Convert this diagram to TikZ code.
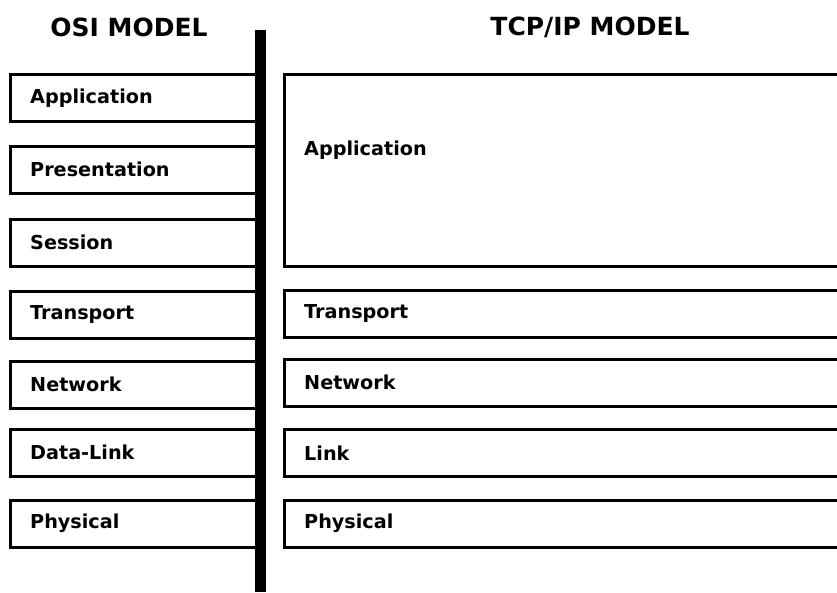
\documentclass[tikz,border=0pt]{standalone}
\usepackage{fontspec}
\setmainfont{DejaVu Sans}
\begin{document}
\begin{tikzpicture}[x=1pt,y=-1pt,
  layerbox/.style={draw=black,line width=2.5pt,rectangle,inner sep=0pt,anchor=north west},
  layertext/.style={font=\bfseries\fontsize{19.2}{22}\selectfont,anchor=west,inner sep=0pt},
  heading/.style={font=\bfseries\fontsize{25}{29}\selectfont,inner sep=0pt}]
\useasboundingbox (0,0) rectangle (837,592);
\clip (0,0) rectangle (837,592);

% column headings
\node[heading] (osi) at (129,27) {OSI MODEL};
\node[heading] (tcp) at (590,27) {TCP/IP MODEL};

% OSI layers (left column)
\foreach \name/\txt/\top in {oapp/Application/73, opre/Presentation/145, oses/Session/218,
    otra/Transport/290, onet/Network/360, odl/Data-Link/428, ophy/Physical/499}{
  \node[layerbox,minimum width=252pt,minimum height=47pt] (\name) at (9,\top) {};
  \node[layertext] (\name-t) at ([xshift=21pt]\name.west) {\txt};
}

% TCP/IP layers (right column, open past the right edge)
\node[layerbox,minimum width=570pt,minimum height=192pt] (tapp) at (283,73) {};
\node[layertext] (tapp-t) at (304,150) {Application};
\foreach \name/\txt/\top in {ttra/Transport/289, tnet/Network/358, tlnk/Link/428, tphy/Physical/499}{
  \node[layerbox,minimum width=570pt,minimum height=47pt] (\name) at (283,\top) {};
  \node[layertext] (\name-t) at ([xshift=21pt]\name.west) {\txt};
}

% dividing bar
\fill[black] (255,30) rectangle (266,592);
\end{tikzpicture}
\end{document}
